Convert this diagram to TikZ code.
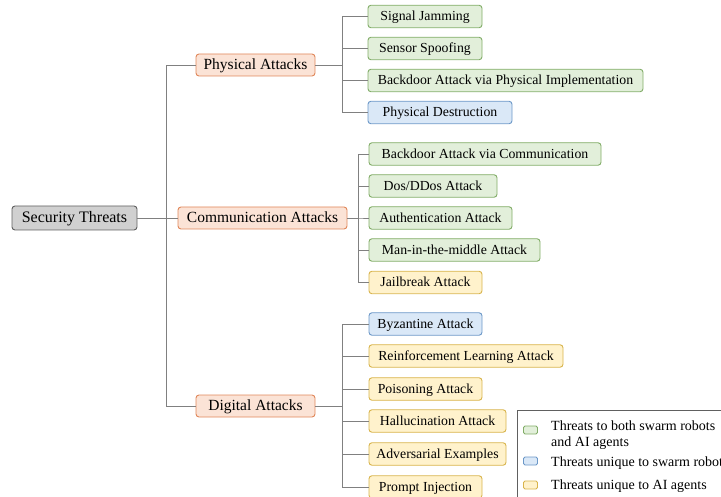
\documentclass[tikz,border=0pt]{standalone}
\usepackage{fontspec}
\setmainfont{Liberation Serif}
\newfontfamily\diagfont{Liberation Serif}
\begin{document}
\begin{tikzpicture}[x=1pt,y=-1pt,
  every node/.style={font=\diagfont},
  box/.style={draw, rounded corners=3pt, line width=0.9pt, inner sep=0pt, align=center,
              text height=11.5pt, text depth=3pt},
  leaf/.style={box, minimum height=22.5pt, font=\diagfont\fontsize{13.8}{16}\selectfont},
  cat/.style={box, minimum height=22pt, font=\diagfont\fontsize{15.5}{17}\selectfont, draw=catB, fill=catF},
  leafG/.style={leaf, draw=grnB, fill=grnF},
  leafB/.style={leaf, draw=bluB, fill=bluF},
  leafY/.style={leaf, draw=ylwB, fill=ylwF},
  conn/.style={draw=lineC, line width=0.9pt},
  swatch/.style={draw, rounded corners=1.5pt, line width=0.8pt, minimum width=14pt, minimum height=8pt, inner sep=0pt},
  legtxt/.style={anchor=west, inner sep=0pt, align=left, font=\diagfont\fontsize{14}{16}\selectfont}
]
\definecolor{grnF}{HTML}{E2EFDA}\definecolor{grnB}{HTML}{82AD68}
\definecolor{bluF}{HTML}{DAE8F7}\definecolor{bluB}{HTML}{6C98C8}
\definecolor{ylwF}{HTML}{FFF2CC}\definecolor{ylwB}{HTML}{D8B44C}
\definecolor{catF}{HTML}{FBE3D6}\definecolor{catB}{HTML}{E0875A}
\definecolor{rootF}{HTML}{D0D0D0}\definecolor{rootB}{HTML}{606060}
\definecolor{lineC}{HTML}{808080}
\useasboundingbox (0,0) rectangle (721,497);

% root and categories
\node[box, minimum width=125pt, minimum height=24pt, draw=rootB, fill=rootF,
      font=\diagfont\fontsize{16}{18}\selectfont] (root) at (74.5,218) {Security Threats};
\node[cat, minimum width=119pt] (phy) at (255.5,65) {Physical Attacks};
\node[cat, minimum width=169pt] (com) at (262.5,218) {Communication Attacks};
\node[cat, minimum width=119pt] (dig) at (255.5,406) {Digital Attacks};

% physical attacks
\node[leafG, minimum width=114pt] (p1) at (425,16.5) {Signal Jamming};
\node[leafG, minimum width=114pt] (p2) at (425,48.5) {Sensor Spoofing};
\node[leafG, minimum width=275pt] (p3) at (505.5,80.5) {Backdoor Attack via Physical Implementation};
\node[leafB, minimum width=144pt] (p4) at (440,112.5) {Physical Destruction};

% communication attacks
\node[leafG, minimum width=232pt] (c1) at (485,154) {Backdoor Attack via Communication};
\node[leafG, minimum width=128pt] (c2) at (433,186) {Dos/DDos Attack};
\node[leafG, minimum width=143pt] (c3) at (440.5,218) {Authentication Attack};
\node[leafG, minimum width=171pt] (c4) at (454.5,250) {Man-in-the-middle Attack};
\node[leafY, minimum width=113pt] (c5) at (425.5,282.5) {Jailbreak Attack};

% digital attacks
\node[leafB, minimum width=113pt] (d1) at (425.5,324) {Byzantine Attack};
\node[leafY, minimum width=194pt] (d2) at (466,356) {Reinforcement Learning Attack};
\node[leafY, minimum width=113pt] (d3) at (425.5,389) {Poisoning Attack};
\node[leafY, minimum width=137pt] (d4) at (437.5,421) {Hallucination Attack};
\node[leafY, minimum width=137pt] (d5) at (437.5,454) {Adversarial Examples};
\node[leafY, minimum width=113pt] (d6) at (425.5,487) {Prompt Injection};

% branch rails
\coordinate (trunk) at (166,0);
\coordinate (phyR) at (342,0);
\coordinate (comR) at (358,0);
\coordinate (digR) at (342,0);

% connectors
\draw[conn] (root.east) -- (root.east -| trunk);
\foreach \c in {phy,com,dig} \draw[conn] (root.east -| trunk) |- (\c.west);
\foreach \c in {p1,p2,p3,p4} \draw[conn] (phy.east) -- (phy.east -| phyR) |- (\c.west);
\foreach \c in {c1,c2,c3,c4,c5} \draw[conn] (com.east) -- (com.east -| comR) |- (\c.west);
\foreach \c in {d1,d2,d3,d4,d5,d6} \draw[conn] (dig.east) -- (dig.east -| digR) |- (\c.west);

% legend
\draw[draw=rootB, line width=0.8pt, fill=white] (517,410) rectangle (730,505);
\node[swatch, draw=grnB, fill=grnF] (lg) at (530.5,430) {};
\node[swatch, draw=bluB, fill=bluF] (lb) at (530.5,461) {};
\node[swatch, draw=ylwB, fill=ylwF] (ly) at (530.5,485) {};
\node[legtxt] (tg) at (551,435.5) {Threats to both swarm robots\\and AI agents};
\node[legtxt] (tb) at (551,463.5) {Threats unique to swarm robots};
\node[legtxt] (ty) at (551,486.5) {Threats unique to AI agents};
\end{tikzpicture}
\end{document}
